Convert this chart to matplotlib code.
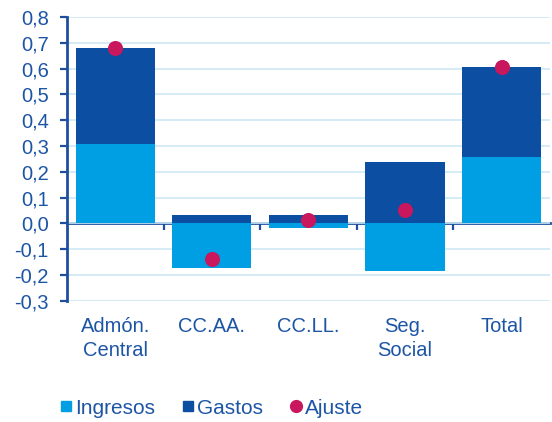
import matplotlib
matplotlib.use("Agg")
import matplotlib.pyplot as plt
from matplotlib.lines import Line2D
import numpy as np

categories = ["Admón.\nCentral", "CC.AA.", "CC.LL.", "Seg.\nSocial", "Total"]
ingresos = [0.306, -0.173, -0.020, -0.185, 0.256]
gastos = [0.375, 0.034, 0.034, 0.236, 0.350]
ajuste = [0.680, -0.137, 0.013, 0.050, 0.605]
yticks = [-0.3, -0.2, -0.1, 0.0, 0.1, 0.2, 0.3, 0.4, 0.5, 0.6, 0.7, 0.8]

C_ING = "#009FE3"
C_GAS = "#0B4EA2"
C_AJU = "#C8175D"
C_TXT = "#1D55A5"
C_AX = "#1F4E9E"
C_GRID = "#CDE9F6"

plt.rcParams['font.family'] = ['Liberation Sans', 'DejaVu Sans']

fig = plt.figure(figsize=(5.52, 4.22), dpi=100)
ax = fig.add_axes([0.1214, 0.2874, 0.9960 - 0.1214, 0.9597 - 0.2874])

x = np.arange(len(categories))
ing = np.array(ingresos)
gas = np.array(gastos)
# stacking: positives upward from 0, negatives downward from 0
ing_bottom = np.zeros_like(ing)
gas_bottom = np.where((ing > 0) & (gas > 0), ing, 0.0)
gas_bottom = np.where((ing < 0) & (gas < 0), ing, gas_bottom)

w = 0.82
ax.bar(x, ing, w, bottom=ing_bottom, color=C_ING, zorder=3)
ax.bar(x, gas, w, bottom=gas_bottom, color=C_GAS, zorder=3)
ax.scatter(x, ajuste, s=118, color=C_AJU, zorder=5, linewidths=0)

ax.set_xlim(-0.5, len(categories) - 0.5)
ax.set_ylim(-0.3, 0.8)
ax.set_yticks(yticks)
ax.set_yticklabels([f"{v:.1f}".replace(".", ",") for v in yticks])
ax.yaxis.grid(True, color=C_GRID, linewidth=1.2, zorder=0)
ax.set_axisbelow(True)

for s in ["top", "right", "bottom"]:
    ax.spines[s].set_visible(False)
ax.spines["left"].set_color(C_AX)
ax.spines["left"].set_linewidth(2)

ax.tick_params(axis="y", direction="out", length=5, width=1.6, color=C_AX,
               labelsize=14.5, labelcolor=C_TXT, pad=8)
ax.set_xticks(x)
ax.set_xticklabels(categories, fontsize=14.5, color=C_TXT, linespacing=1.32)
ax.tick_params(axis="x", length=0, pad=12)

# zero line with category boundary ticks
sec = ax.secondary_xaxis(0.3 / 1.1)
sec.spines["bottom"].set_color(C_AX)
sec.spines["bottom"].set_linewidth(2)
sec.set_xticks(np.arange(len(categories) - 1) + 0.5)
sec.set_xticklabels([])
sec.tick_params(axis="x", direction="out", length=5, width=1.6, color=C_AX)
sec.spines["bottom"].set_zorder(4)

handles = [
    Line2D([], [], marker="s", linestyle="none", markersize=7.5, color=C_ING),
    Line2D([], [], marker="s", linestyle="none", markersize=7.5, color=C_GAS),
    Line2D([], [], marker="o", linestyle="none", markersize=8.5, color=C_AJU),
]
fig.legend(handles, ["Ingresos", "Gastos", "Ajuste"], loc="center left",
           bbox_to_anchor=(0.110, 0.033), ncol=3, frameon=False,
           borderpad=0, borderaxespad=0, handlelength=0.55, handletextpad=0.15,
           columnspacing=1.3, prop={"size": 15}, labelcolor=C_TXT)

fig.savefig("out.png", dpi=100)
